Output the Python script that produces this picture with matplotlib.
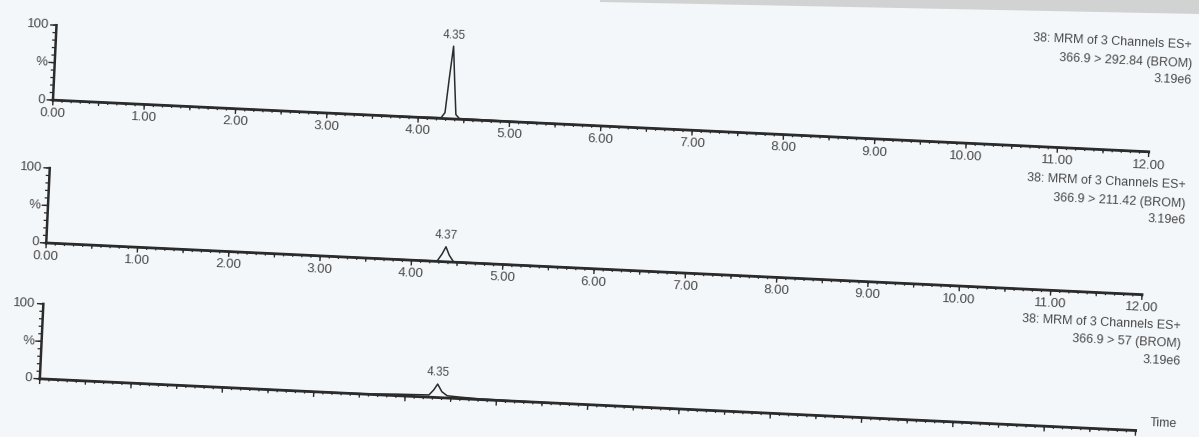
import numpy as np
import matplotlib.pyplot as plt
from matplotlib.transforms import Affine2D
from matplotlib.patches import Polygon

# chromatogram traces, retention time (min) vs relative intensity (%)
time_a = [0.00, 1.00, 2.00, 3.00, 4.00, 4.25, 4.29, 4.32, 4.35, 4.38, 4.41, 4.45, 5.00, 6.00, 7.00, 8.00, 9.00, 10.00, 11.00, 12.00]
int_a = [0, 0, 0, 0, 0.5, 1, 8, 55, 97, 50, 6, 1, 0.5, 0, 0, 0, 0, 0, 0, 0]

time_b = [0.00, 1.00, 2.00, 3.00, 4.00, 4.28, 4.33, 4.37, 4.41, 4.46, 5.00, 6.00, 7.00, 8.00, 9.00, 10.00, 11.00, 12.00]
int_b = [0, 0, 0, 0, 0.3, 0.5, 10, 20, 9, 0.5, 0.3, 0, 0, 0, 0, 0, 0, 0]

time_c = [0.00, 1.00, 2.00, 3.00, 3.60, 3.90, 4.10, 4.26, 4.31, 4.35, 4.40, 4.46, 4.60, 4.80, 5.20, 6.00, 7.00, 8.00, 9.00, 10.00, 11.00, 12.00]
int_c = [0, 0, 0, 0, 0.5, 2, 2.5, 3, 10, 18, 8, 3, 2, 1, 0.3, 0, 0, 0, 0, 0, 0, 0]

peak_times = [4.35, 4.37, 4.35]
peak_labels = ["4.35", "4.37", "4.35"]
headers = [
    ["38: MRM of 3 Channels ES+", "366.9 > 292.84 (BROM)", "3.19e6"],
    ["38: MRM of 3 Channels ES+", "366.9 > 211.42 (BROM)", "3.19e6"],
    ["38: MRM of 3 Channels ES+", "366.9 > 57 (BROM)", "3.19e6"],
]
x_ticks = [0, 1, 2, 3, 4, 5, 6, 7, 8, 9, 10, 11, 12]

W, H = 1199, 437
TILT = -2.7
INK = "#2b2b2b"
TXT = "#4a4a4a"
plt.rcParams["font.family"] = ["Liberation Sans", "DejaVu Sans"]

fig = plt.figure(figsize=(W / 100, H / 100), dpi=100)
fig.patch.set_facecolor("#f4f7fa")

# the page was scanned slightly rotated
rot = Affine2D().rotate_deg_around(W / 2, H / 2, TILT)

# scanner shadow along the top edge
fig.patches.append(Polygon([[600 / W, 1], [1, 1], [1, 1 - 14 / H], [600 / W, 1 - 2 / H]],
                           closed=True, transform=fig.transFigure, facecolor="#c9c9c9",
                           edgecolor="none", alpha=0.8))

baselines = [126, 269, 405]
header_pos = [(1192, 42), (1186, 182), (1181, 323)]
series = [(time_a, int_a), (time_b, int_b), (time_c, int_c)]

for i, (t, y) in enumerate(series):
    base = baselines[i]
    ax = fig.add_axes([48 / W, 1 - base / H, 1097 / W, 75 / H])
    ax.set_xlim(0, 12)
    ax.set_ylim(0, 100)
    ax.axis("off")
    tr = ax.transData + rot

    ax.plot(t, y, color=INK, lw=1.1, transform=tr, clip_on=False)
    # axes lines
    ax.plot([0, 12], [0, 0], color=INK, lw=2.0, transform=tr, clip_on=False)
    ax.plot([0, 0], [0, 100], color=INK, lw=1.8, transform=tr, clip_on=False)

    # x ticks
    minor = np.arange(0, 12.001, 0.1)
    ax.vlines(minor, -3, 0, color=INK, lw=0.9, transform=tr, clip_on=False)
    ax.vlines(np.arange(0.5, 12, 1.0), -5, 0, color=INK, lw=0.9, transform=tr, clip_on=False)
    ax.vlines(x_ticks, -7, 0, color=INK, lw=1.0, transform=tr, clip_on=False)
    # y ticks
    ax.hlines(np.arange(0, 101, 10), -0.04, 0, color=INK, lw=0.9, transform=tr, clip_on=False)
    ax.hlines([0, 50, 100], -0.07, 0, color=INK, lw=1.0, transform=tr, clip_on=False)
    for val, lab in [(100, "100"), (50, "%"), (0, "0")]:
        ax.text(-0.08, val, lab, transform=tr, ha="right", va="center", fontsize=9.5,
                color=TXT, rotation=TILT)

    if i < 2:
        for xt in x_ticks:
            ax.text(xt, -9, f"{xt:.2f}", transform=tr, ha="center", va="top",
                    fontsize=9.5, color=TXT, rotation=TILT)
    else:
        ax.text(12.15, 1, "Time", transform=tr, ha="left", va="bottom",
                fontsize=9, color=TXT, rotation=TILT)

    # peak label above apex
    pk = peak_times[i]
    apex = max(y)
    ax.text(pk, apex + 6, peak_labels[i], transform=tr, ha="center", va="bottom",
            fontsize=8.5, color=TXT, rotation=TILT)

    hx, hy = header_pos[i]
    for k, line in enumerate(headers[i]):
        fig.text(hx / W, 1 - (hy + 19 * k) / H, line, ha="right", va="center",
                 fontsize=9, color=TXT, rotation=TILT)

fig.savefig("out.png", dpi=100, facecolor=fig.get_facecolor())
